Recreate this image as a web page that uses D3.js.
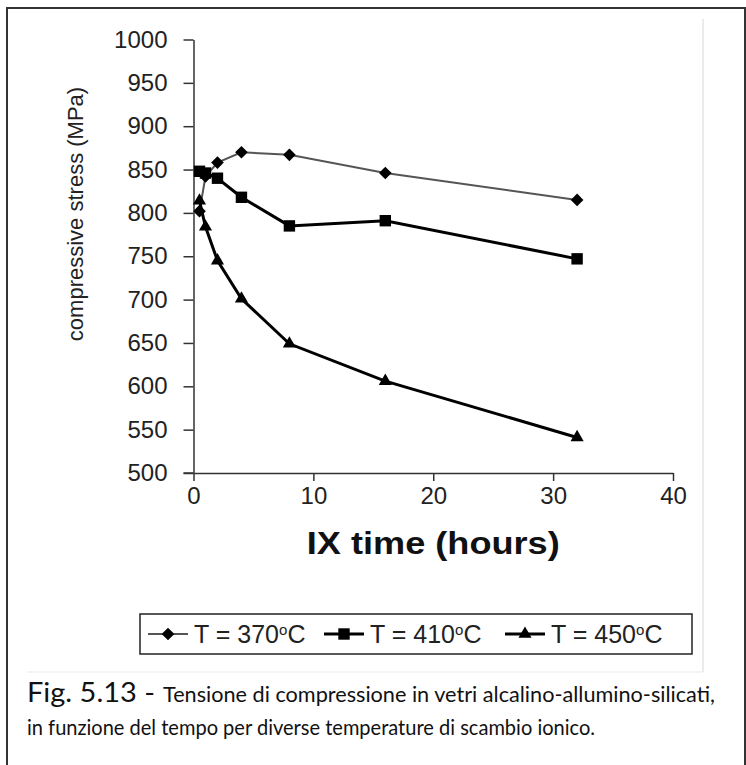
<!DOCTYPE html>
<html><head><meta charset="utf-8">
<script src="https://cdn.jsdelivr.net/npm/d3@7"></script>
<style>html,body{margin:0;padding:0;background:#fff;} svg{display:block;}</style>
</head><body>
<svg id="c" width="746" height="765"></svg>
<script>
// ---- data ----
const timesHours = [0.5, 1, 2, 4, 8, 16, 32];
const stress370 = [802, 842, 858, 870, 867, 846, 815];
const stress410 = [848, 846, 840, 818, 785, 791, 747];
const stress450 = [814, 784, 745, 701, 649, 606, 541];
const seriesTemps = ["370", "410", "450"];
const xTicks = [0, 10, 20, 30, 40];
const yTicks = [500, 550, 600, 650, 700, 750, 800, 850, 900, 950, 1000];
const xTitle = "IX time (hours)";
const yTitle = "compressive stress (MPa)";
const captionHead = "Fig. 5.13 -";
const captionLine1 = "Tensione di compressione in vetri alcalino-allumino-silicati,";
const captionLine2 = "in funzione del tempo per diverse temperature di scambio ionico.";

const svg = d3.select("#c");
const font = "'Liberation Sans', Arial, sans-serif";
const capFont = "Lato, 'Open Sans', sans-serif";

// frame
svg.append("rect").attr("x", 7).attr("y", 8).attr("width", 738).attr("height", 770)
  .attr("fill", "#fff").attr("stroke", "#333").attr("stroke-width", 2);
svg.append("line").attr("x1", 703).attr("x2", 703).attr("y1", 19).attr("y2", 672)
  .attr("stroke", "#e4e4e4").attr("stroke-width", 1.5);
svg.append("line").attr("x1", 27).attr("x2", 703).attr("y1", 672).attr("y2", 672)
  .attr("stroke", "#f0f0f0").attr("stroke-width", 1.5);

const x = d3.scaleLinear().domain([0, 40]).range([193.5, 673]);
const y = d3.scaleLinear().domain([500, 1000]).range([473, 39.5]);

// axes
const gx = svg.append("g").attr("transform", `translate(0,${y(500)})`)
  .call(d3.axisBottom(x).tickValues(xTicks).tickSize(8).tickSizeOuter(0).tickPadding(6)
    .tickFormat(d3.format("d")));
const gy = svg.append("g").attr("transform", `translate(${x(0)},0)`)
  .call(d3.axisLeft(y).tickValues(yTicks).tickSize(10).tickSizeOuter(0).tickPadding(16)
    .tickFormat(d3.format("d")));
[gx, gy].forEach(g => {
  g.select(".domain").attr("stroke", "#333").attr("stroke-width", 1.5);
  g.selectAll(".tick line").attr("stroke", "#333").attr("stroke-width", 1.5);
  g.selectAll("text").attr("font-family", font).attr("font-size", 24).attr("fill", "#222");
});
// extend x-axis line to the left like the original
svg.append("line").attr("x1", x(0) - 10).attr("x2", x(0)).attr("y1", y(500)).attr("y2", y(500))
  .attr("stroke", "#333").attr("stroke-width", 1.5);

// titles
svg.append("text")
  .attr("transform", `translate(${(x(0) + x(40)) / 2},554) scale(1.13,1)`)
  .attr("text-anchor", "middle").attr("font-family", font).attr("font-weight", "bold")
  .attr("font-size", 32).attr("fill", "#111").text(xTitle);
svg.append("text").attr("transform", `translate(83,214) rotate(-90)`)
  .attr("text-anchor", "middle").attr("font-family", font)
  .attr("font-size", 22).attr("fill", "#222").text(yTitle);

// series
const series = [
  {temp: seriesTemps[0], vals: stress370, color: "#555", width: 2, sym: "diamond"},
  {temp: seriesTemps[1], vals: stress410, color: "#000", width: 3, sym: "square"},
  {temp: seriesTemps[2], vals: stress450, color: "#000", width: 3, sym: "triangle"}
];
function symPath(kind) {
  if (kind === "diamond") return d3.symbol().type(d3.symbolSquare).size(80)();
  if (kind === "square") return d3.symbol().type(d3.symbolSquare).size(130)();
  return d3.symbol().type(d3.symbolTriangle).size(75)();
}
function symRot(kind) { return kind === "diamond" ? " rotate(45)" : ""; }
const line = d3.line().x(d => x(d[0])).y(d => y(d[1]));
series.forEach(s => {
  const pts = timesHours.map((t, i) => [t, s.vals[i]]);
  svg.append("path").datum(pts).attr("d", line).attr("fill", "none")
    .attr("stroke", s.color).attr("stroke-width", s.width);
  svg.append("g").selectAll("path").data(pts).join("path")
    .attr("d", symPath(s.sym))
    .attr("transform", d => `translate(${x(d[0])},${y(d[1])})` + symRot(s.sym))
    .attr("fill", "#000");
});

// legend
const lg = svg.append("g");
lg.append("rect").attr("x", 140).attr("y", 614).attr("width", 552).attr("height", 40)
  .attr("fill", "#fff").attr("stroke", "#222").attr("stroke-width", 1.5);
const legendX = [148, 324, 505];
series.forEach((s, i) => {
  const x0 = legendX[i];
  lg.append("line").attr("x1", x0).attr("x2", x0 + 40).attr("y1", 634).attr("y2", 634)
    .attr("stroke", s.color).attr("stroke-width", s.width);
  lg.append("path").attr("d", symPath(s.sym))
    .attr("transform", `translate(${x0 + 20},634)` + symRot(s.sym)).attr("fill", "#000");
  const t = lg.append("text").attr("x", x0 + 46).attr("y", 643)
    .attr("font-family", font).attr("font-size", 25).attr("fill", "#222");
  t.append("tspan").text("T = " + s.temp);
  t.append("tspan").attr("font-size", 15).attr("dy", -8).text("o");
  t.append("tspan").attr("dy", 8).text("C");
});

// caption
svg.append("text").attr("x", 27).attr("y", 702).attr("font-family", capFont)
  .attr("font-size", 27).attr("fill", "#111")
  .attr("textLength", 128).attr("lengthAdjust", "spacingAndGlyphs").text(captionHead);
svg.append("text").attr("x", 163).attr("y", 702).attr("font-family", capFont)
  .attr("font-size", 21).attr("fill", "#111")
  .attr("textLength", 552).attr("lengthAdjust", "spacingAndGlyphs").text(captionLine1);
svg.append("text").attr("x", 27).attr("y", 735).attr("font-family", capFont)
  .attr("font-size", 21).attr("fill", "#111")
  .attr("textLength", 568).attr("lengthAdjust", "spacingAndGlyphs").text(captionLine2);
</script>
</body></html>
